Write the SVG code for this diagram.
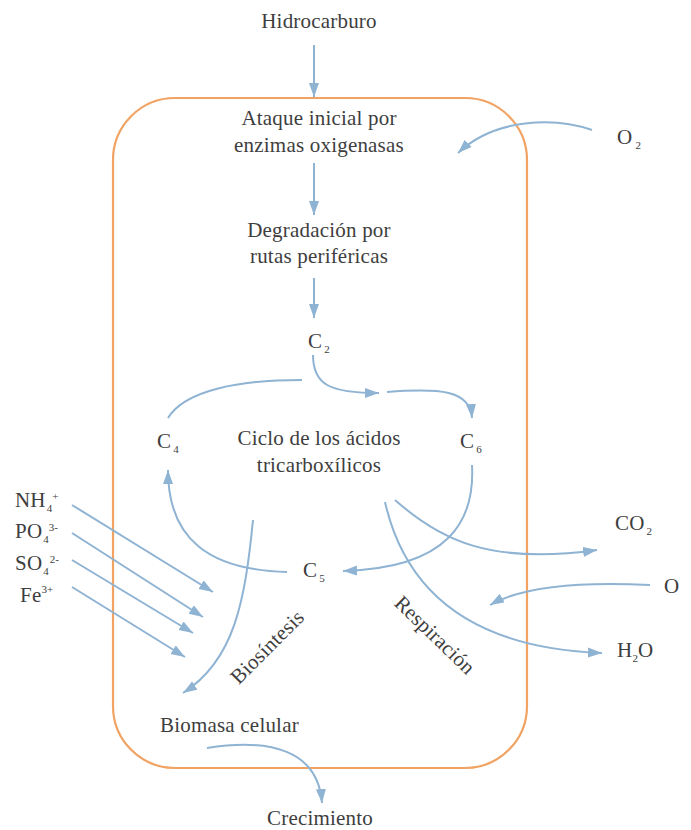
<svg xmlns="http://www.w3.org/2000/svg" width="691" height="830" viewBox="0 0 691 830">
<style>
  text { font-family: "Liberation Serif", "Times New Roman", serif; font-size: 21px; letter-spacing: 0.2px; fill: #3e3e3e; }
  .c { text-anchor: middle; }
  .sub { font-size: 11px; letter-spacing: 0; }
  .ar { fill: none; stroke: #8fb3d3; stroke-width: 2; marker-end: url(#ah); }
  .ln { fill: none; stroke: #8fb3d3; stroke-width: 2; }
  .cell { fill: none; stroke: #f0a363; stroke-width: 2.2; }
</style>
<defs>
  <marker id="ah" markerUnits="userSpaceOnUse" markerWidth="16" markerHeight="12" refX="14" refY="5" orient="auto">
    <path d="M0,0 L14,5 L0,10 z" fill="#8fb3d3"/>
  </marker>
</defs>
<rect id="cell" class="cell" x="113" y="98" width="414" height="670" rx="62" ry="62"/>
<g id="connectors">
  <line class="ar" x1="314" y1="45" x2="314" y2="97"/>
  <line class="ar" x1="314" y1="163" x2="314" y2="215"/>
  <line class="ar" x1="314" y1="278" x2="314" y2="318"/>
  <path class="ar" d="M592,130 C555,117 495,118 458,153"/>
  <path class="ar" d="M313,355 C313,385 330,393 379,393"/>
  <path class="ar" d="M387,392 C440,388 470,390 472,418"/>
  <path class="ln" d="M168,418 C185,390 240,380 302,380"/>
  <path class="ar" d="M472,465 C475,520 450,568 343,571"/>
  <path class="ar" d="M287,572 C210,570 168,540 168,470"/>
  <path class="ar" d="M253,520 C245,600 235,660 183,693"/>
  <line class="ar" x1="72" y1="505" x2="213" y2="592"/>
  <line class="ar" x1="72" y1="533" x2="203" y2="617"/>
  <line class="ar" x1="72" y1="560" x2="193" y2="633"/>
  <line class="ar" x1="72" y1="587" x2="185" y2="657"/>
  <path class="ar" d="M395,500 C440,540 490,565 597,550"/>
  <path class="ar" d="M385,502 C405,590 470,648 602,653"/>
  <path class="ar" d="M650,585 C590,582 525,585 490,605"/>
  <path class="ar" d="M207,748 C270,738 318,750 322,803"/>
</g>
<g id="hidrocarburo"><text class="c" x="319" y="28">Hidrocarburo</text></g>
<g id="ataque"><text class="c" x="319" y="125">Ataque inicial por</text><text class="c" x="319" y="152">enzimas oxigenasas</text></g>
<g id="o2-top"><text x="617" y="144">O<tspan class="sub" dx="3" dy="5">2</tspan></text></g>
<g id="degradacion"><text class="c" x="319" y="237">Degradación por</text><text class="c" x="319" y="263">rutas periféricas</text></g>
<g id="c2"><text x="308" y="348">C<tspan class="sub" dx="2" dy="5">2</tspan></text></g>
<g id="c4"><text x="157" y="448">C<tspan class="sub" dx="2" dy="5">4</tspan></text></g>
<g id="c6"><text x="460" y="448">C<tspan class="sub" dx="2" dy="5">6</tspan></text></g>
<g id="ciclo"><text class="c" x="319" y="445">Ciclo de los ácidos</text><text class="c" x="319" y="472">tricarboxílicos</text></g>
<g id="c5"><text x="303" y="577">C<tspan class="sub" dx="2" dy="5">5</tspan></text></g>
<g id="nh4"><text x="15" y="507">NH<tspan class="sub" dx="1" dy="5">4</tspan><tspan class="sub" dy="-12">+</tspan></text></g>
<g id="po4"><text x="15" y="538">PO<tspan class="sub" dx="1" dy="5">4</tspan><tspan class="sub" dy="-12">3-</tspan></text></g>
<g id="so4"><text x="15" y="570">SO<tspan class="sub" dx="1" dy="5">4</tspan><tspan class="sub" dx="1" dy="-12">2-</tspan></text></g>
<g id="fe"><text x="20" y="602">Fe<tspan class="sub" dy="-9">3+</tspan></text></g>
<g id="co2"><text x="615" y="530">CO<tspan class="sub" dx="2" dy="5">2</tspan></text></g>
<g id="o-right"><text x="664" y="593">O</text></g>
<g id="h2o"><text x="617" y="657">H<tspan class="sub" dy="5">2</tspan><tspan dy="-5">O</tspan></text></g>
<g id="biosintesis"><text class="c" transform="translate(272,652) rotate(-45)">Biosíntesis</text></g>
<g id="respiracion"><text class="c" transform="translate(430,640) rotate(44)">Respiración</text></g>
<g id="biomasa"><text x="160" y="732">Biomasa celular</text></g>
<g id="crecimiento"><text class="c" x="320" y="825">Crecimiento</text></g>
</svg>
